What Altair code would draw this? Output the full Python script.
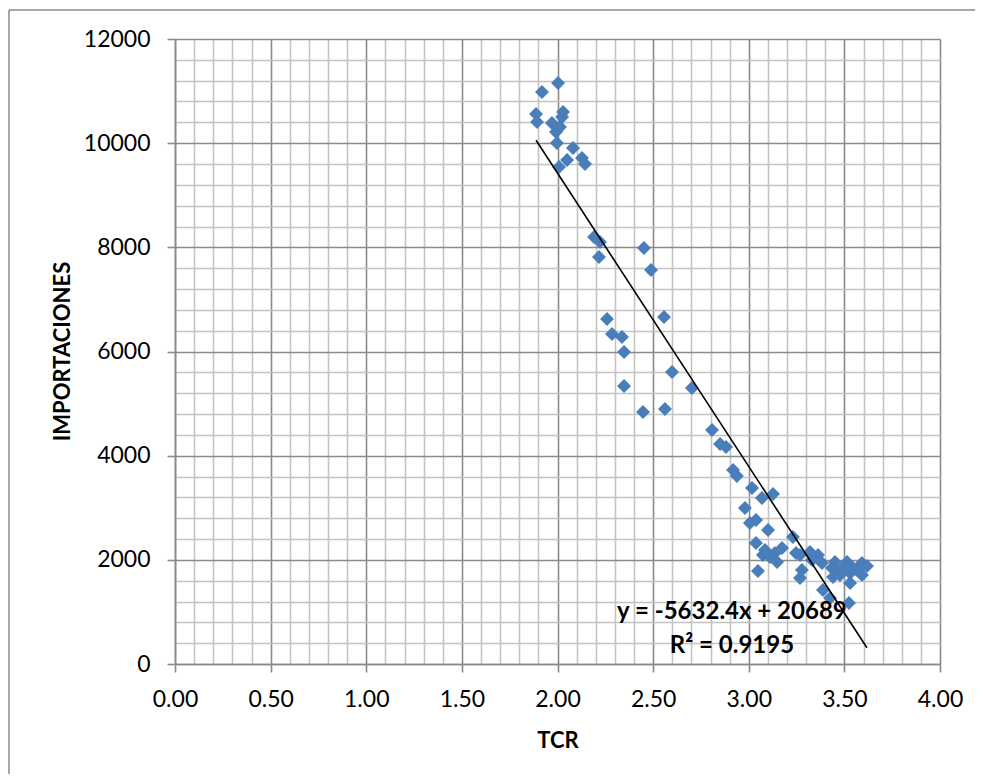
import altair as alt
import pandas as pd

# ---- data ----
tcr = [1.888, 1.893, 1.919, 2.003, 1.971, 2.029, 2.024, 2.013, 1.992, 1.997,
       2.081, 2.050, 2.008, 2.128, 2.144,
       2.191, 2.222, 2.217, 2.452, 2.489, 2.259, 2.285, 2.337, 2.348, 2.557,
       2.348, 2.447, 2.562, 2.599, 2.703, 2.808, 2.850, 2.881, 2.918, 2.938,
       3.017, 3.069, 3.127, 2.980, 3.006, 3.038, 3.101, 3.038, 3.085, 3.074,
       3.111, 3.148, 3.174, 3.137, 3.048, 3.231, 3.247, 3.268, 3.278, 3.268,
       3.320, 3.362, 3.331, 3.383, 3.451, 3.435, 3.441, 3.514, 3.493, 3.477,
       3.530, 3.545, 3.592, 3.618, 3.592, 3.388, 3.425, 3.524, 3.462, 3.530,
       3.477, 3.566]
importaciones = [10560, 10406, 10982, 11155, 10387, 10598, 10502, 10310, 10214, 10003,
                 9907, 9677, 9542, 9715, 9600,
                 8198, 8102, 7814, 7987, 7565, 6624, 6336, 6278, 5990, 6662,
                 5338, 4838, 4896, 5606, 5299, 4493, 4224, 4166, 3725, 3610,
                 3379, 3187, 3264, 2995, 2707, 2765, 2573, 2323, 2189, 2093,
                 2054, 1958, 2227, 2131, 1786, 2438, 2131, 2093, 1805, 1651,
                 2150, 2093, 1997, 1939, 1958, 1843, 1670, 1958, 1843, 1709,
                 1555, 1843, 1939, 1882, 1709, 1421, 1267, 1171, 1805, 1747,
                 1766, 1805]

slope = -5632.4
intercept = 20689
r2 = 0.9195

x_ticks = [round(i * 0.1, 1) for i in range(41)]
y_ticks = [i * 400 for i in range(31)]

FONT = "Lato"
MINOR = "#c3c3c3"
MAJOR = "#8a8a8a"

df = pd.DataFrame({"TCR": tcr, "IMPORTACIONES": importaciones})
xmin, xmax = min(tcr), max(tcr)
trend = pd.DataFrame({"TCR": [xmin, xmax],
                      "IMPORTACIONES": [slope * xmin + intercept, slope * xmax + intercept]})

x_major = "abs(datum.value*2 - round(datum.value*2)) < 1e-6"
y_major = "datum.value % 2000 === 0"

x_axis = alt.Axis(
    values=x_ticks, tickCount=200,
    labelExpr=f"({x_major}) ? format(datum.value, '.2f') : ''",
    labelOverlap=False, labelFlush=False,
    gridColor=alt.condition(x_major, alt.value(MAJOR), alt.value(MINOR)),
    gridWidth=1.6,
    tickColor=alt.condition(x_major, alt.value(MAJOR), alt.value("transparent")),
    tickSize=8, tickWidth=1.6,
    domainColor=MAJOR, domainWidth=1.6,
    labelFont=FONT, labelFontSize=23, labelColor="black",
    labelBaseline="middle", labelPadding=27,
    title="TCR", titleFont=FONT, titleFontSize=22, titleFontWeight="bold",
    titleColor="black", titleBaseline="middle", titleY=76,
)
y_axis = alt.Axis(
    values=y_ticks, tickCount=200,
    labelExpr=f"({y_major}) ? format(datum.value, 'd') : ''",
    labelOverlap=False, labelFlush=False,
    gridColor=alt.condition(y_major, alt.value(MAJOR), alt.value(MINOR)),
    gridWidth=1.6,
    tickColor=alt.condition(y_major, alt.value(MAJOR), alt.value("transparent")),
    tickSize=8, tickWidth=1.6,
    domainColor=MAJOR, domainWidth=1.6,
    labelFont=FONT, labelFontSize=23, labelColor="black",
    labelPadding=17,
    title="IMPORTACIONES", titleFont=FONT, titleFontSize=22, titleFontWeight="bold",
    titleColor="black", titleX=-113, titleY=312, titleAngle=270,
    titleAlign="center", titleBaseline="middle",
)

xs = alt.Scale(domain=[0, 4], nice=False, zero=False)
ys = alt.Scale(domain=[0, 12000], nice=False)

frame_left = alt.Chart().mark_rule(stroke="#8a8a8a", strokeWidth=1.5, clip=False).encode(
    x=alt.value(-166), y=alt.value(-29), y2=alt.value(760)
)
frame_top = alt.Chart().mark_rule(stroke="#8a8a8a", strokeWidth=1.5, clip=False).encode(
    x=alt.value(-166), x2=alt.value(820), y=alt.value(-29)
)

points = alt.Chart(df).mark_point(shape="diamond", filled=True, size=195,
                                  color="#4a7ebb", opacity=1).encode(
    x=alt.X("TCR:Q", scale=xs, axis=x_axis),
    y=alt.Y("IMPORTACIONES:Q", scale=ys, axis=y_axis),
)

line = alt.Chart(trend).mark_line(color="black", strokeWidth=1.6).encode(
    x=alt.X("TCR:Q", scale=xs),
    y=alt.Y("IMPORTACIONES:Q", scale=ys),
)

eq_text = alt.Chart().mark_text(font=FONT, fontSize=24, fontWeight="bold",
                                color="black", align="center", baseline="middle").encode(
    x=alt.datum(2.912), y=alt.datum(1000),
    text=alt.value(f"y = {slope}x + {intercept}"),
)
r2_text = alt.Chart().mark_text(font=FONT, fontSize=24, fontWeight="bold",
                                color="black", align="center", baseline="middle").encode(
    x=alt.datum(2.912), y=alt.datum(350),
    text=alt.value(f"R² = {r2}"),
)

chart = alt.layer(frame_left, frame_top, points, line, eq_text, r2_text).properties(
    width=765, height=625,
    autosize="none",
    padding={"left": 167, "top": 31, "right": 35, "bottom": 110},
    background="white",
).configure_view(stroke=None)

chart.save("out.html", embed_options={"renderer": "svg", "actions": False})
